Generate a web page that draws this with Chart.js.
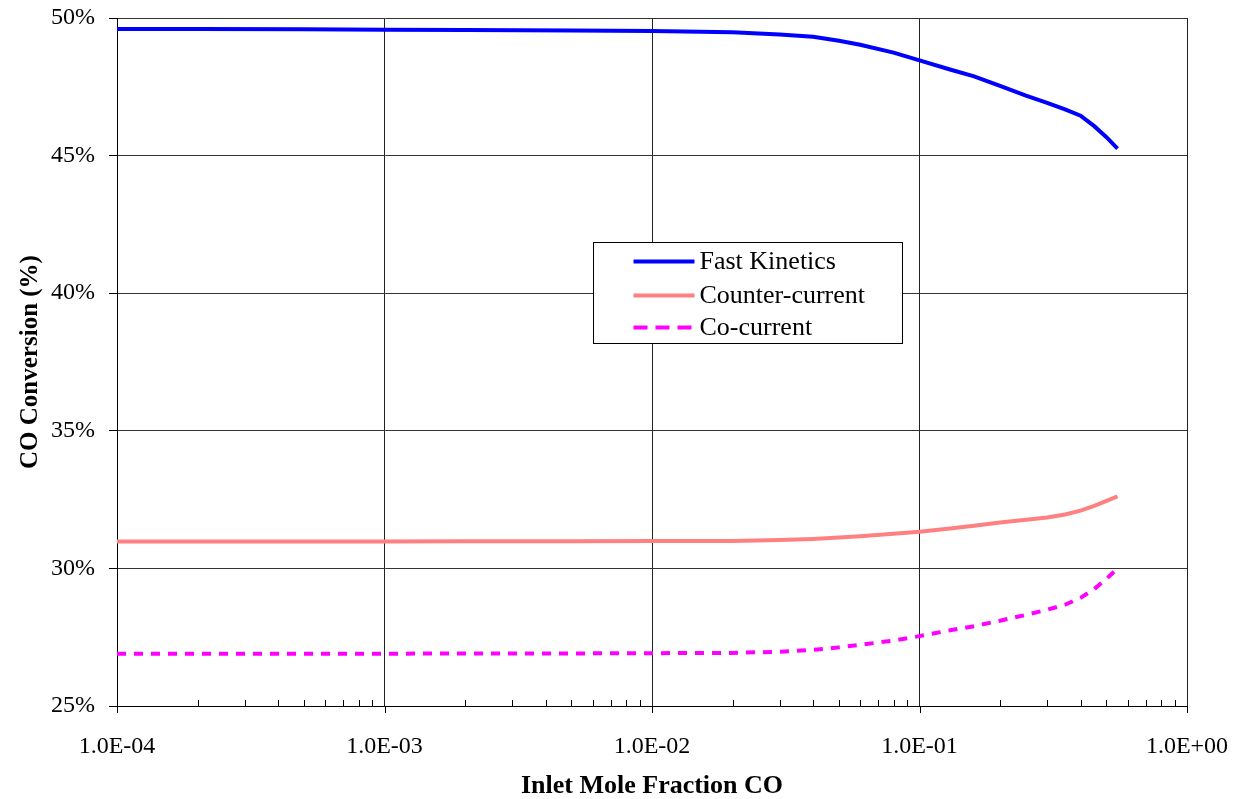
<!DOCTYPE html>
<html>
<head>
<meta charset="utf-8">
<script src="https://cdn.jsdelivr.net/npm/chart.js@4.4.1/dist/chart.umd.min.js"></script>
<style>
  html, body { margin: 0; padding: 0; background: #fff; }
  #wrap { width: 1236px; height: 799px; position: relative; }
</style>
</head>
<body>
<div id="wrap"><canvas id="chart" width="1236" height="799"></canvas></div>
<script>
// ===============================
// Data
// ===============================
const inletFraction = [1e-4, 2e-4, 5e-4, 1e-3, 2e-3, 5e-3, 1e-2, 0.02, 0.03, 0.04, 0.05, 0.06, 0.08,
                       0.1, 0.13, 0.16, 0.2, 0.25, 0.3, 0.35, 0.4, 0.45, 0.5, 0.55];

const fastKinetics = [49.60, 49.60, 49.59, 49.57, 49.56, 49.55, 49.53, 49.48, 49.40, 49.32, 49.17, 49.03, 48.74,
                      48.46, 48.13, 47.88, 47.53, 47.18, 46.92, 46.68, 46.45, 46.07, 45.67, 45.25];

const counterCurrent = [30.98, 30.98, 30.98, 30.98, 30.99, 30.99, 31.00, 31.00, 31.03, 31.07, 31.12, 31.17, 31.26,
                        31.33, 31.45, 31.55, 31.67, 31.77, 31.85, 31.96, 32.10, 32.27, 32.45, 32.62];

const coCurrent = [26.90, 26.90, 26.90, 26.90, 26.91, 26.91, 26.92, 26.93, 26.97, 27.04, 27.13, 27.22, 27.38,
                   27.54, 27.75, 27.90, 28.10, 28.31, 28.50, 28.68, 28.93, 29.25, 29.62, 30.00];

const seriesNames = ["Fast Kinetics", "Counter-current", "Co-current"];
const xMajorTicks = [1e-4, 1e-3, 1e-2, 1e-1, 1];
const yTicks = [25, 30, 35, 40, 45, 50];

const fontFam = "'Liberation Serif', 'Times New Roman', serif";

function isMajor(v) {
    const e = Math.log10(v);
    return Math.abs(e - Math.round(e)) < 1e-6;
}

function sciLabel(v) {
    const e = Math.round(Math.log10(v));
    return "1.0E" + (e < 0 ? "-" : "+") + String(Math.abs(e)).padStart(2, "0");
}

// all tick values incl. minor ones (2..9 per decade)
const xAllTicks = [];
xMajorTicks.forEach((d, i) => {
    xAllTicks.push(d);
    if (i < xMajorTicks.length - 1) {
        for (let m = 2; m <= 9; m++) xAllTicks.push(Number((m * d).toPrecision(3)));
    }
});

function toPoints(ys) {
    return ys.map((y, i) => ({ x: inletFraction[i], y: y }));
}

// scales must not push the plot area around for label overflow
function noOverflow(scale) {
    scale.paddingTop = 0;
    scale.paddingBottom = 0;
    scale.paddingLeft = 0;
    scale.paddingRight = 0;
}

// ===============================
// Plugin: minor ticks + legend box
// ===============================
const extras = {
    id: "extras",
    afterDraw(chart) {
        const ctx = chart.ctx;
        const ca = chart.chartArea;
        const xs = chart.scales.x;

        // x ticks: major outward, minor inward
        ctx.save();
        ctx.strokeStyle = "#000";
        ctx.lineWidth = 1;
        xAllTicks.forEach(v => {
            const px = Math.round(xs.getPixelForValue(v)) + 0.5;
            ctx.beginPath();
            if (isMajor(v)) {
                ctx.moveTo(px, ca.bottom);
                ctx.lineTo(px, ca.bottom + 7);
            } else {
                ctx.moveTo(px, ca.bottom);
                ctx.lineTo(px, ca.bottom - 6);
            }
            ctx.stroke();
        });
        ctx.restore();

        // legend
        const w = ca.right - ca.left, h = ca.bottom - ca.top;
        const bx = Math.round(ca.left + 0.445 * w) + 0.5;
        const by = Math.round(ca.top + 0.3256 * h) + 0.5;
        const bw = 309, bh = 101;
        ctx.save();
        ctx.fillStyle = "#fff";
        ctx.fillRect(bx, by, bw, bh);
        ctx.strokeStyle = "#000";
        ctx.lineWidth = 1;
        ctx.strokeRect(bx, by, bw, bh);
        const rowY = [19, 53, 85];
        chart.data.datasets.forEach((ds, i) => {
            const yy = by + rowY[i];
            ctx.beginPath();
            ctx.strokeStyle = ds.borderColor;
            ctx.lineWidth = ds.borderWidth;
            ctx.setLineDash(ds.borderDash ? [14, 8] : []);
            ctx.moveTo(bx + 40, yy);
            ctx.lineTo(bx + 101, yy);
            ctx.stroke();
            ctx.setLineDash([]);
            ctx.fillStyle = "#000";
            ctx.font = "26px " + fontFam;
            ctx.textBaseline = "middle";
            ctx.textAlign = "left";
            ctx.fillText(ds.label, bx + 106, yy + 1);
        });
        ctx.restore();
    }
};

// ===============================
// Chart
// ===============================
new Chart(document.getElementById("chart").getContext("2d"), {
    type: "line",
    data: {
        datasets: [
            {
                label: seriesNames[0],
                data: toPoints(fastKinetics),
                borderColor: "#0000FF",
                borderWidth: 4,
                pointRadius: 0,
                fill: false,
                tension: 0
            },
            {
                label: seriesNames[1],
                data: toPoints(counterCurrent),
                borderColor: "#FF8080",
                borderWidth: 4,
                pointRadius: 0,
                fill: false,
                tension: 0
            },
            {
                label: seriesNames[2],
                data: toPoints(coCurrent),
                borderColor: "#FF00FF",
                borderWidth: 4,
                borderDash: [9, 8],
                pointRadius: 0,
                fill: false,
                tension: 0
            }
        ]
    },
    options: {
        responsive: false,
        animation: false,
        layout: { padding: { left: 0, right: 49, top: 18, bottom: 0 } },
        plugins: {
            legend: { display: false },
            tooltip: { enabled: false }
        },
        scales: {
            x: {
                type: "logarithmic",
                min: 1e-4,
                max: 1,
                afterBuildTicks: scale => { scale.ticks = xAllTicks.map(v => ({ value: v })); },
                afterFit: scale => { scale.height = 93; noOverflow(scale); },
                grid: {
                    drawTicks: false,
                    color: c => (c.tick && isMajor(c.tick.value)) ? "#222" : "rgba(0,0,0,0)",
                    lineWidth: 1
                },
                border: { color: "#000", width: 1 },
                ticks: {
                    autoSkip: false,
                    maxRotation: 0,
                    padding: 26,
                    color: "#000",
                    font: { family: fontFam, size: 24 },
                    callback: v => isMajor(v) ? sciLabel(v) : ""
                },
                title: {
                    display: true,
                    text: "Inlet Mole Fraction CO",
                    color: "#000",
                    font: { family: fontFam, size: 26, weight: "bold", lineHeight: 1 },
                    padding: { top: 10, bottom: 0 }
                }
            },
            y: {
                min: 25,
                max: 50,
                afterBuildTicks: scale => { scale.ticks = yTicks.map(v => ({ value: v })); },
                afterFit: scale => { scale.width = 117; noOverflow(scale); },
                grid: {
                    color: "#333",
                    tickColor: "#000",
                    tickLength: 8,
                    lineWidth: 1
                },
                border: { color: "#000", width: 1 },
                ticks: {
                    padding: 14,
                    color: "#000",
                    font: { family: fontFam, size: 24 },
                    callback: v => v + "%"
                },
                title: {
                    display: true,
                    text: "CO Conversion (%)",
                    color: "#000",
                    font: { family: fontFam, size: 25, weight: "bold" },
                    padding: { top: 16, bottom: 0 }
                }
            }
        }
    },
    plugins: [extras]
});
</script>
</body>
</html>
